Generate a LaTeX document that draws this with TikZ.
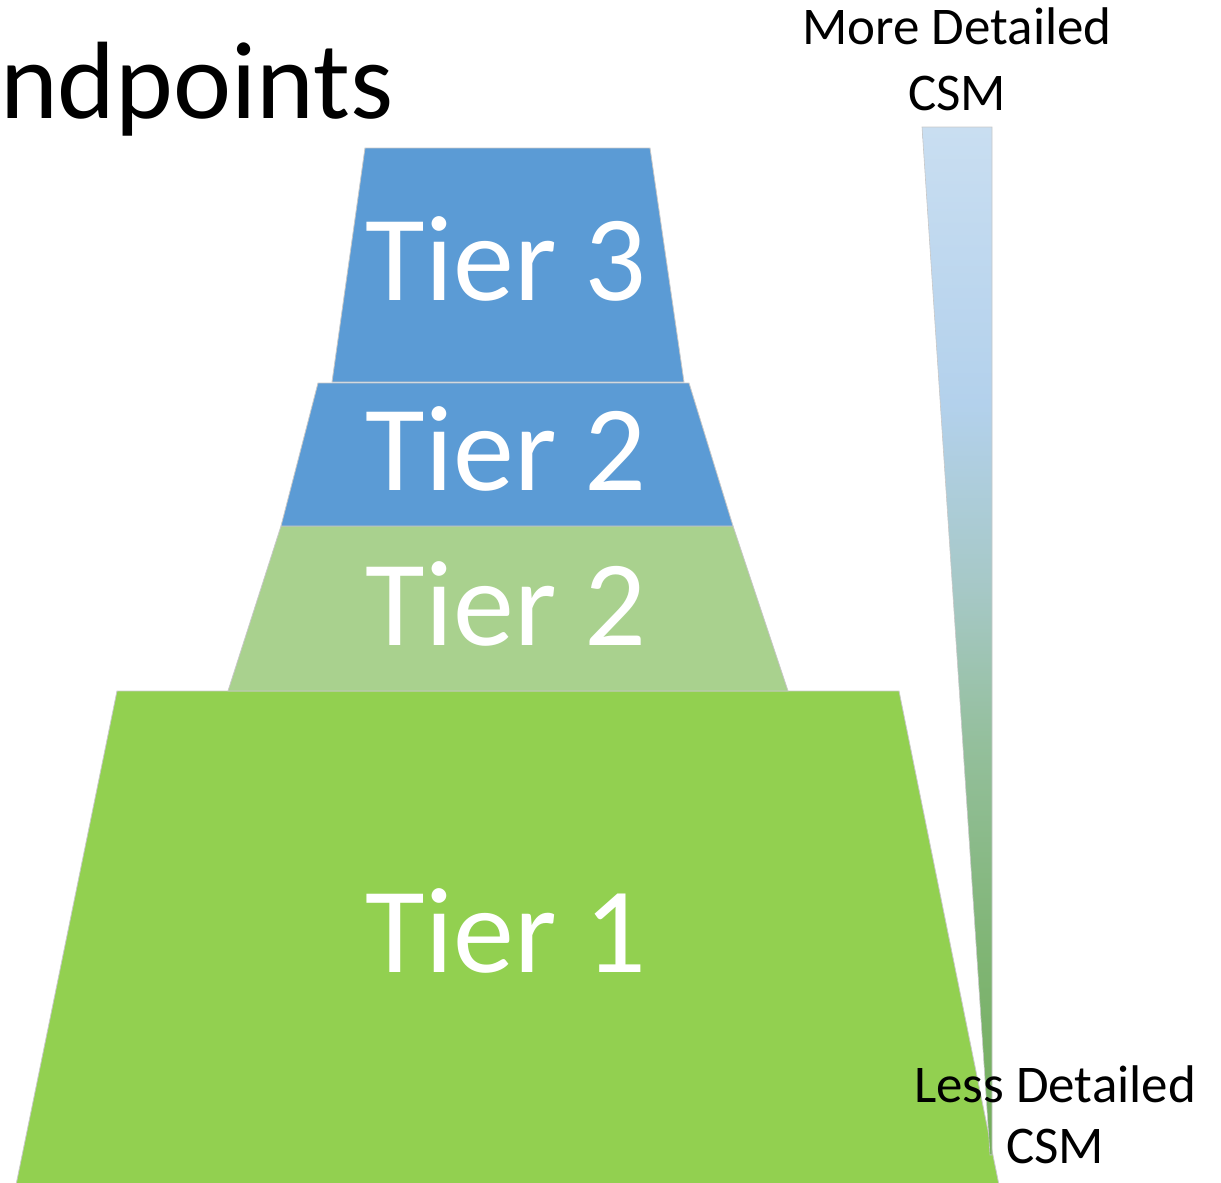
\documentclass[tikz,border=0pt]{standalone}
\usepackage{fontspec}
\setmainfont{Carlito}
\definecolor{tierblue}{HTML}{5B9BD5}
\definecolor{tierlgreen}{HTML}{A9D18E}
\definecolor{tiergreen}{HTML}{92D050}
\definecolor{edgegray}{HTML}{C8C8C8}
\definecolor{gA}{HTML}{C9DEF1}
\definecolor{gB}{HTML}{B3D1EC}
\definecolor{gC}{HTML}{A6C8C6}
\definecolor{gD}{HTML}{94BF9C}
\definecolor{gE}{HTML}{80B575}
\definecolor{gF}{HTML}{72AD58}
\pgfdeclareverticalshading{csmgrad}{100bp}{color(0bp)=(gF); color(25bp)=(gF); color(35bp)=(gE); color(45bp)=(gD); color(52.5bp)=(gC); color(61.5bp)=(gB); color(75bp)=(gA); color(100bp)=(gA)}
\tikzset{
  tierpoly/.style={draw=edgegray, line width=0.8pt},
  tierlabel/.style={text=white, font=\fontsize{122}{122}\selectfont, inner sep=0pt, anchor=base},
  sidelabel/.style={text=black, font=\fontsize{53}{53}\selectfont, inner sep=0pt, anchor=base},
}
\begin{document}
\begin{tikzpicture}[x=1pt,y=-1pt]
\useasboundingbox (0,0) rectangle (1221,1183);
% title
\node[anchor=base west, inner sep=0pt, font=\fontsize{110}{110}\selectfont] (title) at (0,118) {ndpoints};
% tiers
\path[tierpoly, fill=tiergreen] (117,691) -- (899,691) -- (1000,1190) -- (15,1190) -- cycle;
\path[tierpoly, fill=tierlgreen] (281,526) -- (733,526) -- (788,691) -- (228,691) -- cycle;
\path[tierpoly, fill=tierblue] (318,383) -- (689,383) -- (733,526) -- (281,526) -- cycle;
\path[tierpoly, fill=tierblue] (365,148) -- (650,148) -- (684,382) -- (332,382) -- cycle;
\node[tierlabel] (t3) at (506,300) {Tier 3};
\node[tierlabel] (t2b) at (506,490) {Tier 2};
\node[tierlabel] (t2g) at (506,645) {Tier 2};
\node[tierlabel] (t1) at (506,972) {Tier 1};
% gradient wedge
\shade[shading=csmgrad, draw=edgegray, line width=0.6pt] (922,127) -- (992,127) -- (992,1155) -- (990,1155) -- cycle;
% side labels
\node[sidelabel] (more) at (957,44) {More Detailed};
\node[sidelabel] (morecsm) at (957,110) {CSM};
\node[sidelabel] (less) at (1055,1102) {Less Detailed};
\node[sidelabel] (lesscsm) at (1055,1163) {CSM};
\end{tikzpicture}
\end{document}
